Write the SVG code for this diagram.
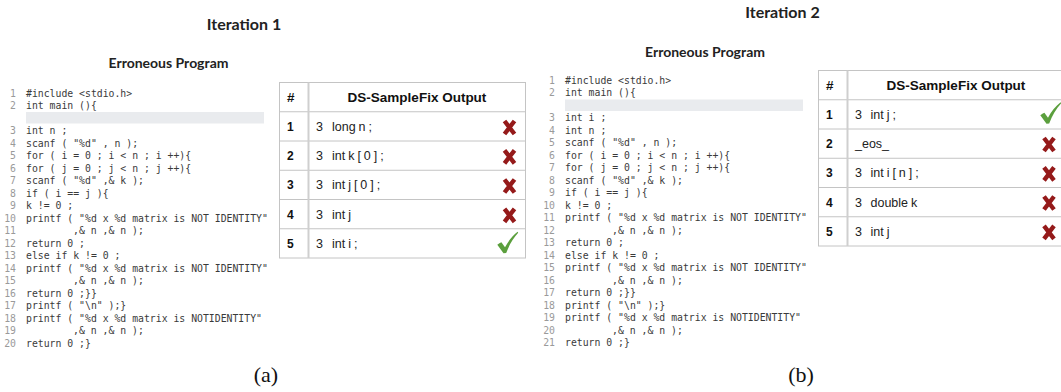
<svg xmlns="http://www.w3.org/2000/svg" xmlns:xlink="http://www.w3.org/1999/xlink" width="1061" height="392" viewBox="0 0 1061 392">
<style>
.ttl{font-family:Lato,"Liberation Sans",sans-serif;font-weight:bold;font-size:16px;fill:#222;text-anchor:middle}
.sub{font-family:Lato,"Liberation Sans",sans-serif;font-weight:bold;font-size:14px;fill:#222;text-anchor:middle}
.ln{font-family:"DejaVu Sans Mono",monospace;font-size:9.8px;fill:#9a9a9a;text-anchor:end}
.code{font-family:"DejaVu Sans Mono",monospace;font-size:9.8px;fill:#3a3a3a}
.hl{fill:#e9ebee}
.hdr{font-family:"Liberation Sans",Arial,sans-serif;font-weight:bold;font-size:13.5px;fill:#111}
.num{font-family:"Liberation Sans",Arial,sans-serif;font-weight:bold;font-size:12px;fill:#111}
.cell{font-family:"Liberation Sans",Arial,sans-serif;font-size:12.5px;fill:#222;word-spacing:-0.5px}
.grid{stroke:#c4c4c4;stroke-width:1;fill:none}
.div{stroke:#cfcfcf;stroke-width:2}
.cap{font-family:"Liberation Serif",serif;font-size:22px;fill:#111;text-anchor:middle}
</style>
<defs>
<g id="xm"><path d="M-5,-6.5 L5,6.5 M5,-6.5 L-5,6.5" stroke="#951a1a" stroke-width="4.4" fill="none"/></g>
<g id="ck"><path d="M0.3,12.8 C1.8,11.6 3,10.9 4.4,10.3 L8,15.2 C11.5,8.8 15.5,3.8 20.6,-0.2 L21.2,0.8 C16.2,6 12.2,13 9.2,21 L6.5,21.2 Z" fill="#5b9f3d"/></g>
</defs>

<g id="panel-a">
<text class="ttl" x="244" y="30">Iteration 1</text>
<g id="code-a">
<text class="sub" x="168.5" y="68">Erroneous Program</text>
<rect class="hl" x="26" y="112" width="238" height="11.5"/>
<text class="ln" x="16" y="96.5">1</text><text class="code" x="26" y="96.5">#include &lt;stdio.h&gt;</text>
<text class="ln" x="16" y="109">2</text><text class="code" x="26" y="109">int main (){</text>
<text class="ln" x="16" y="134">3</text><text class="code" x="26" y="134">int n ;</text>
<text class="ln" x="16" y="146.5">4</text><text class="code" x="26" y="146.5">scanf ( "%d" , n );</text>
<text class="ln" x="16" y="159">5</text><text class="code" x="26" y="159">for ( i = 0 ; i &lt; n ; i ++){</text>
<text class="ln" x="16" y="171.5">6</text><text class="code" x="26" y="171.5">for ( j = 0 ; j &lt; n ; j ++){</text>
<text class="ln" x="16" y="184">7</text><text class="code" x="26" y="184">scanf ( "%d" ,&amp; k );</text>
<text class="ln" x="16" y="196.5">8</text><text class="code" x="26" y="196.5">if ( i == j ){</text>
<text class="ln" x="16" y="209">9</text><text class="code" x="26" y="209">k != 0 ;</text>
<text class="ln" x="16" y="221.5">10</text><text class="code" x="26" y="221.5">printf ( "%d x %d matrix is NOT IDENTITY"</text>
<text class="ln" x="16" y="234">11</text><text class="code" x="73" y="234">,&amp; n ,&amp; n );</text>
<text class="ln" x="16" y="246.5">12</text><text class="code" x="26" y="246.5">return 0 ;</text>
<text class="ln" x="16" y="259">13</text><text class="code" x="26" y="259">else if k != 0 ;</text>
<text class="ln" x="16" y="271.5">14</text><text class="code" x="26" y="271.5">printf ( "%d x %d matrix is NOT IDENTITY"</text>
<text class="ln" x="16" y="284">15</text><text class="code" x="73" y="284">,&amp; n ,&amp; n );</text>
<text class="ln" x="16" y="296.5">16</text><text class="code" x="26" y="296.5">return 0 ;}}</text>
<text class="ln" x="16" y="309">17</text><text class="code" x="26" y="309">printf ( "\n" );}</text>
<text class="ln" x="16" y="321.5">18</text><text class="code" x="26" y="321.5">printf ( "%d x %d matrix is NOTIDENTITY"</text>
<text class="ln" x="16" y="334">19</text><text class="code" x="73" y="334">,&amp; n ,&amp; n );</text>
<text class="ln" x="16" y="346.5">20</text><text class="code" x="26" y="346.5">return 0 ;}</text>
</g>
<g id="table-a">
<rect class="grid" x="279.5" y="82.5" width="246" height="175.5"/>
<path class="grid" d="M279.5,111.75H525.5M279.5,141H525.5M279.5,170.25H525.5M279.5,199.5H525.5M279.5,228.75H525.5"/>
<line class="div" x1="308.5" y1="82.5" x2="308.5" y2="258"/>
<text class="hdr" x="287" y="102">#</text>
<text class="hdr" x="417" y="102" text-anchor="middle">DS-SampleFix Output</text>
<text class="num" x="287" y="130.7">1</text><text class="cell" x="316" y="130.7">3</text><text class="cell" x="332" y="130.7">long n ;</text><use xlink:href="#xm" x="509.5" y="127.5"/>
<text class="num" x="287" y="160">2</text><text class="cell" x="316" y="160">3</text><text class="cell" x="332" y="160">int k [ 0 ] ;</text><use xlink:href="#xm" x="509.5" y="156.8"/>
<text class="num" x="287" y="189.2">3</text><text class="cell" x="316" y="189.2">3</text><text class="cell" x="332" y="189.2">int j [ 0 ] ;</text><use xlink:href="#xm" x="509.5" y="186"/>
<text class="num" x="287" y="218.5">4</text><text class="cell" x="316" y="218.5">3</text><text class="cell" x="332" y="218.5">int j</text><use xlink:href="#xm" x="509.5" y="215.3"/>
<text class="num" x="287" y="247.7">5</text><text class="cell" x="316" y="247.7">3</text><text class="cell" x="332" y="247.7">int i ;</text><use xlink:href="#ck" x="497" y="232"/>
</g>
<text class="cap" x="266" y="382">(a)</text>
</g>

<g id="panel-b">
<text class="ttl" x="782.5" y="18">Iteration 2</text>
<g id="code-b">
<text class="sub" x="705" y="57">Erroneous Program</text>
<rect class="hl" x="565" y="99.5" width="238" height="11.5"/>
<text class="ln" x="555" y="83.5">1</text><text class="code" x="565" y="83.5">#include &lt;stdio.h&gt;</text>
<text class="ln" x="555" y="96">2</text><text class="code" x="565" y="96">int main (){</text>
<text class="ln" x="555" y="121">3</text><text class="code" x="565" y="121">int i ;</text>
<text class="ln" x="555" y="133.5">4</text><text class="code" x="565" y="133.5">int n ;</text>
<text class="ln" x="555" y="146">5</text><text class="code" x="565" y="146">scanf ( "%d" , n );</text>
<text class="ln" x="555" y="158.5">6</text><text class="code" x="565" y="158.5">for ( i = 0 ; i &lt; n ; i ++){</text>
<text class="ln" x="555" y="171">7</text><text class="code" x="565" y="171">for ( j = 0 ; j &lt; n ; j ++){</text>
<text class="ln" x="555" y="183.5">8</text><text class="code" x="565" y="183.5">scanf ( "%d" ,&amp; k );</text>
<text class="ln" x="555" y="196">9</text><text class="code" x="565" y="196">if ( i == j ){</text>
<text class="ln" x="555" y="208.5">10</text><text class="code" x="565" y="208.5">k != 0 ;</text>
<text class="ln" x="555" y="221">11</text><text class="code" x="565" y="221">printf ( "%d x %d matrix is NOT IDENTITY"</text>
<text class="ln" x="555" y="233.5">12</text><text class="code" x="612" y="233.5">,&amp; n ,&amp; n );</text>
<text class="ln" x="555" y="246">13</text><text class="code" x="565" y="246">return 0 ;</text>
<text class="ln" x="555" y="258.5">14</text><text class="code" x="565" y="258.5">else if k != 0 ;</text>
<text class="ln" x="555" y="271">15</text><text class="code" x="565" y="271">printf ( "%d x %d matrix is NOT IDENTITY"</text>
<text class="ln" x="555" y="283.5">16</text><text class="code" x="612" y="283.5">,&amp; n ,&amp; n );</text>
<text class="ln" x="555" y="296">17</text><text class="code" x="565" y="296">return 0 ;}}</text>
<text class="ln" x="555" y="308.5">18</text><text class="code" x="565" y="308.5">printf ( "\n" );}</text>
<text class="ln" x="555" y="321">19</text><text class="code" x="565" y="321">printf ( "%d x %d matrix is NOTIDENTITY"</text>
<text class="ln" x="555" y="333.5">20</text><text class="code" x="612" y="333.5">,&amp; n ,&amp; n );</text>
<text class="ln" x="555" y="346">21</text><text class="code" x="565" y="346">return 0 ;}</text>
</g>
<g id="table-b">
<rect class="grid" x="818.5" y="70.5" width="246" height="175.5"/>
<path class="grid" d="M818.5,99.75H1064.5M818.5,129H1064.5M818.5,158.25H1064.5M818.5,187.5H1064.5M818.5,216.75H1064.5"/>
<line class="div" x1="847.5" y1="70.5" x2="847.5" y2="246"/>
<text class="hdr" x="826" y="90">#</text>
<text class="hdr" x="956" y="90" text-anchor="middle">DS-SampleFix Output</text>
<text class="num" x="826" y="118.7">1</text><text class="cell" x="855" y="118.7">3</text><text class="cell" x="870.5" y="118.7">int j ;</text><use xlink:href="#ck" x="1040" y="102.5"/>
<text class="num" x="826" y="148">2</text><text class="cell" x="855" y="148">_eos_</text><use xlink:href="#xm" x="1049" y="144.5"/>
<text class="num" x="826" y="177.2">3</text><text class="cell" x="855" y="177.2">3</text><text class="cell" x="870.5" y="177.2">int i [ n ] ;</text><use xlink:href="#xm" x="1049" y="173.8"/>
<text class="num" x="826" y="206.5">4</text><text class="cell" x="855" y="206.5">3</text><text class="cell" x="870.5" y="206.5">double k</text><use xlink:href="#xm" x="1049" y="203"/>
<text class="num" x="826" y="235.7">5</text><text class="cell" x="855" y="235.7">3</text><text class="cell" x="870.5" y="235.7">int j</text><use xlink:href="#xm" x="1049" y="232.3"/>
</g>
<text class="cap" x="801" y="382">(b)</text>
</g>
</svg>
